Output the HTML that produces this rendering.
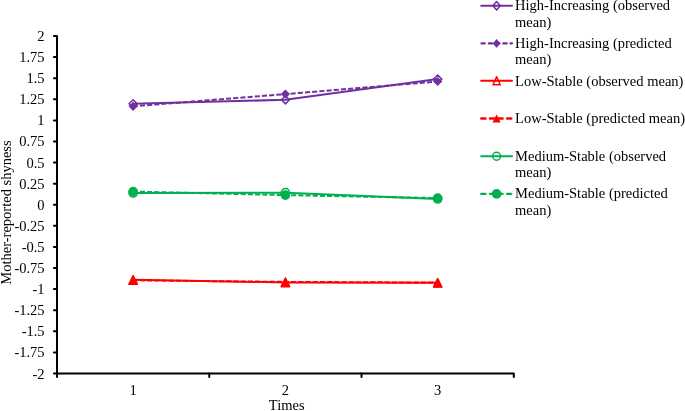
<!DOCTYPE html>
<html><head><meta charset="utf-8"><style>
html,body{margin:0;padding:0;background:#fff;}
body{width:685px;height:411px;overflow:hidden;}
svg{display:block;will-change:transform;}
</style></head><body>
<svg width="685" height="411" viewBox="0 0 685 411">

<g stroke="#000" stroke-width="2" fill="none" stroke-linejoin="round" stroke-linecap="round">
<path d="M53.9,36.0 L57.0,36.0 L57.0,376.9"/>
<path d="M53.9,373.5 L513.8,373.5 L513.8,376.9"/>
<line x1="53.9" y1="57.09" x2="57.0" y2="57.09"/>
<line x1="53.9" y1="78.19" x2="57.0" y2="78.19"/>
<line x1="53.9" y1="99.28" x2="57.0" y2="99.28"/>
<line x1="53.9" y1="120.38" x2="57.0" y2="120.38"/>
<line x1="53.9" y1="141.47" x2="57.0" y2="141.47"/>
<line x1="53.9" y1="162.56" x2="57.0" y2="162.56"/>
<line x1="53.9" y1="183.66" x2="57.0" y2="183.66"/>
<line x1="53.9" y1="204.75" x2="57.0" y2="204.75"/>
<line x1="53.9" y1="225.84" x2="57.0" y2="225.84"/>
<line x1="53.9" y1="246.94" x2="57.0" y2="246.94"/>
<line x1="53.9" y1="268.03" x2="57.0" y2="268.03"/>
<line x1="53.9" y1="289.12" x2="57.0" y2="289.12"/>
<line x1="53.9" y1="310.22" x2="57.0" y2="310.22"/>
<line x1="53.9" y1="331.31" x2="57.0" y2="331.31"/>
<line x1="53.9" y1="352.41" x2="57.0" y2="352.41"/>
<line x1="209.27" y1="373.5" x2="209.27" y2="376.9"/>
<line x1="361.53" y1="373.5" x2="361.53" y2="376.9"/>
</g>
<g style="font-family:'Liberation Serif',serif;font-size:14.5px" fill="#000" text-anchor="end">
<text x="44.6" y="41.00">2</text>
<text x="44.6" y="62.09">1.75</text>
<text x="44.6" y="83.19">1.5</text>
<text x="44.6" y="104.28">1.25</text>
<text x="44.6" y="125.38">1</text>
<text x="44.6" y="146.47">0.75</text>
<text x="44.6" y="167.56">0.5</text>
<text x="44.6" y="188.66">0.25</text>
<text x="44.6" y="209.75">0</text>
<text x="44.6" y="230.84">-0.25</text>
<text x="44.6" y="251.94">-0.5</text>
<text x="44.6" y="273.03">-0.75</text>
<text x="44.6" y="294.12">-1</text>
<text x="44.6" y="315.22">-1.25</text>
<text x="44.6" y="336.31">-1.5</text>
<text x="44.6" y="357.41">-1.75</text>
<text x="44.6" y="378.50">-2</text>
</g>
<g style="font-family:'Liberation Serif',serif;font-size:14.5px" fill="#000" text-anchor="middle">
<text x="133.13" y="394.6">1</text>
<text x="285.40" y="394.6">2</text>
<text x="437.67" y="394.6">3</text>
<text x="286.7" y="410">Times</text>
<text transform="translate(10.6,212.5) rotate(-90)" x="0" y="0">Mother-reported shyness</text>
</g>
<polyline points="133.13,103.80 285.40,99.80 437.67,79.10" fill="none" stroke="#7030A0" stroke-width="2" stroke-linejoin="round"/>
<polygon points="133.13,99.70 137.23,103.80 133.13,107.90 129.03,103.80" fill="none" stroke="#7030A0" stroke-width="1.5" stroke-linejoin="round"/>
<polygon points="285.40,95.70 289.50,99.80 285.40,103.90 281.30,99.80" fill="none" stroke="#7030A0" stroke-width="1.5" stroke-linejoin="round"/>
<polygon points="437.67,75.00 441.77,79.10 437.67,83.20 433.57,79.10" fill="none" stroke="#7030A0" stroke-width="1.5" stroke-linejoin="round"/>
<polyline points="133.13,106.30 285.40,94.10 437.67,81.50" fill="none" stroke="#7030A0" stroke-width="2" stroke-linejoin="round" stroke-dasharray="5.1 2.1" stroke-dashoffset="0.4"/>
<polygon points="133.13,101.70 137.73,106.30 133.13,110.90 128.53,106.30" fill="#7030A0"/>
<polygon points="285.40,89.50 290.00,94.10 285.40,98.70 280.80,94.10" fill="#7030A0"/>
<polygon points="437.67,76.90 442.27,81.50 437.67,86.10 433.07,81.50" fill="#7030A0"/>
<polyline points="133.13,279.80 285.40,282.40 437.67,282.80" fill="none" stroke="#FF0000" stroke-width="2" stroke-linejoin="round"/>
<polygon points="133.13,275.55 137.33,284.05 128.93,284.05" fill="none" stroke="#FF0000" stroke-width="1.5" stroke-linejoin="round"/>
<polygon points="285.40,278.15 289.60,286.65 281.20,286.65" fill="none" stroke="#FF0000" stroke-width="1.5" stroke-linejoin="round"/>
<polygon points="437.67,278.55 441.87,287.05 433.47,287.05" fill="none" stroke="#FF0000" stroke-width="1.5" stroke-linejoin="round"/>
<polyline points="133.13,280.30 285.40,281.90 437.67,282.60" fill="none" stroke="#FF0000" stroke-width="2" stroke-linejoin="round" stroke-dasharray="5.1 2.1" stroke-dashoffset="0.4"/>
<polygon points="133.13,275.50 137.93,285.10 128.33,285.10" fill="#FF0000"/>
<polygon points="285.40,277.10 290.20,286.70 280.60,286.70" fill="#FF0000"/>
<polygon points="437.67,277.80 442.47,287.40 432.87,287.40" fill="#FF0000"/>
<polyline points="133.13,193.00 285.40,192.70 437.67,199.00" fill="none" stroke="#00B050" stroke-width="2" stroke-linejoin="round"/>
<circle cx="133.13" cy="193.00" r="4.1" fill="none" stroke="#00B050" stroke-width="1.5"/>
<circle cx="285.40" cy="192.70" r="4.1" fill="none" stroke="#00B050" stroke-width="1.5"/>
<circle cx="437.67" cy="199.00" r="4.1" fill="none" stroke="#00B050" stroke-width="1.5"/>
<polyline points="133.13,191.60 285.40,195.10 437.67,198.10" fill="none" stroke="#00B050" stroke-width="2" stroke-linejoin="round" stroke-dasharray="5.1 2.1" stroke-dashoffset="0.4"/>
<circle cx="133.13" cy="191.60" r="4.8" fill="#00B050"/>
<circle cx="285.40" cy="195.10" r="4.8" fill="#00B050"/>
<circle cx="437.67" cy="198.10" r="4.8" fill="#00B050"/>
<line x1="481.2" y1="5.80" x2="512.0" y2="5.80" stroke="#7030A0" stroke-width="2.0" stroke-linecap="round"/>
<polygon points="496.60,1.50 500.20,5.80 496.60,10.10 493.00,5.80" fill="none" stroke="#7030A0" stroke-width="1.5" stroke-linejoin="round"/>
<text x="515.1" y="10.20" style="font-family:'Liberation Serif',serif;font-size:14.5px" fill="#000">High-Increasing (observed</text>
<text x="515.1" y="26.50" style="font-family:'Liberation Serif',serif;font-size:14.5px" fill="#000">mean)</text>
<line x1="481.50" y1="43.40" x2="484.80" y2="43.40" stroke="#7030A0" stroke-width="2.2" stroke-linecap="round"/>
<line x1="488.80" y1="43.40" x2="492.10" y2="43.40" stroke="#7030A0" stroke-width="2.2" stroke-linecap="round"/>
<line x1="496.10" y1="43.40" x2="499.40" y2="43.40" stroke="#7030A0" stroke-width="2.2" stroke-linecap="round"/>
<line x1="503.30" y1="43.40" x2="506.70" y2="43.40" stroke="#7030A0" stroke-width="2.2" stroke-linecap="round"/>
<line x1="510.50" y1="43.40" x2="511.90" y2="43.40" stroke="#7030A0" stroke-width="2.2" stroke-linecap="round"/>
<polygon points="496.60,39.05 500.50,43.40 496.60,47.75 492.70,43.40" fill="#7030A0"/>
<text x="515.1" y="47.50" style="font-family:'Liberation Serif',serif;font-size:14.5px" fill="#000">High-Increasing (predicted</text>
<text x="515.1" y="63.80" style="font-family:'Liberation Serif',serif;font-size:14.5px" fill="#000">mean)</text>
<line x1="481.2" y1="80.80" x2="512.0" y2="80.80" stroke="#FF0000" stroke-width="2.0" stroke-linecap="round"/>
<polygon points="496.60,76.80 500.20,84.80 493.00,84.80" fill="none" stroke="#FF0000" stroke-width="1.5" stroke-linejoin="round"/>
<text x="515.1" y="85.90" style="font-family:'Liberation Serif',serif;font-size:14.5px" fill="#000">Low-Stable (observed mean)</text>
<line x1="481.30" y1="118.50" x2="485.50" y2="118.50" stroke="#FF0000" stroke-width="2.4" stroke-linecap="round"/>
<line x1="490.00" y1="118.50" x2="494.10" y2="118.50" stroke="#FF0000" stroke-width="2.4" stroke-linecap="round"/>
<line x1="498.50" y1="118.50" x2="502.60" y2="118.50" stroke="#FF0000" stroke-width="2.4" stroke-linecap="round"/>
<line x1="507.10" y1="118.50" x2="511.30" y2="118.50" stroke="#FF0000" stroke-width="2.4" stroke-linecap="round"/>
<polygon points="496.60,114.40 500.70,122.60 492.50,122.60" fill="#FF0000"/>
<text x="515.1" y="122.90" style="font-family:'Liberation Serif',serif;font-size:14.5px" fill="#000">Low-Stable (predicted mean)</text>
<line x1="481.2" y1="156.30" x2="512.0" y2="156.30" stroke="#00B050" stroke-width="2.0" stroke-linecap="round"/>
<circle cx="496.60" cy="156.30" r="3.95" fill="none" stroke="#00B050" stroke-width="1.5"/>
<text x="515.1" y="160.90" style="font-family:'Liberation Serif',serif;font-size:14.5px" fill="#000">Medium-Stable (observed</text>
<text x="515.1" y="177.20" style="font-family:'Liberation Serif',serif;font-size:14.5px" fill="#000">mean)</text>
<line x1="481.30" y1="193.85" x2="485.50" y2="193.85" stroke="#00B050" stroke-width="2.4" stroke-linecap="round"/>
<line x1="490.00" y1="193.85" x2="494.10" y2="193.85" stroke="#00B050" stroke-width="2.4" stroke-linecap="round"/>
<line x1="498.50" y1="193.85" x2="502.60" y2="193.85" stroke="#00B050" stroke-width="2.4" stroke-linecap="round"/>
<line x1="507.10" y1="193.85" x2="511.10" y2="193.85" stroke="#00B050" stroke-width="2.4" stroke-linecap="round"/>
<circle cx="496.60" cy="193.85" r="4.85" fill="#00B050"/>
<text x="515.1" y="198.40" style="font-family:'Liberation Serif',serif;font-size:14.5px" fill="#000">Medium-Stable (predicted</text>
<text x="515.1" y="214.70" style="font-family:'Liberation Serif',serif;font-size:14.5px" fill="#000">mean)</text>
</svg>
</body></html>
